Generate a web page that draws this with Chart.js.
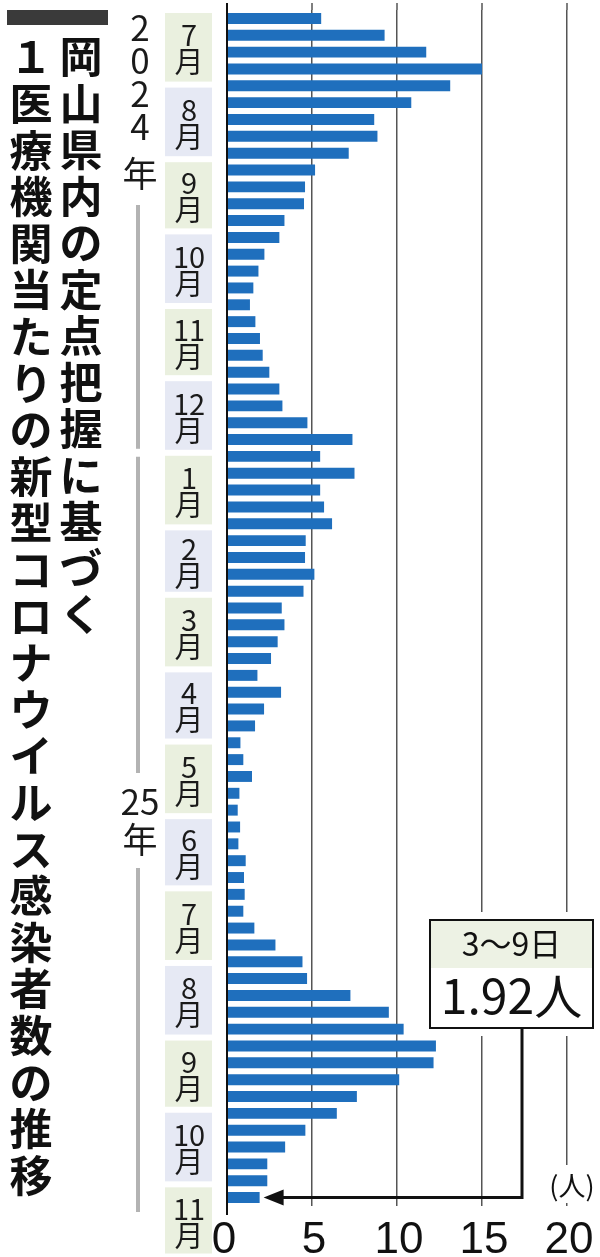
<!DOCTYPE html>
<html lang="ja">
<head>
<meta charset="utf-8">
<title>岡山県内の定点当たり新型コロナ感染者数</title>
<script src="https://cdn.jsdelivr.net/npm/chart.js@4.4.1/dist/chart.umd.min.js"></script>
<style>
  html, body { margin: 0; padding: 0; background: #fff; }
  canvas { display: block; }
</style>
</head>
<body>
<canvas id="chart" width="600" height="1257"></canvas>
<script>
// week starting dates (Mon), 2024/7/1 - 2025/11/3
const weeks = [
  '2024-07-01','2024-07-08','2024-07-15','2024-07-22','2024-07-29',
  '2024-08-05','2024-08-12','2024-08-19','2024-08-26',
  '2024-09-02','2024-09-09','2024-09-16','2024-09-23','2024-09-30',
  '2024-10-07','2024-10-14','2024-10-21','2024-10-28',
  '2024-11-04','2024-11-11','2024-11-18','2024-11-25',
  '2024-12-02','2024-12-09','2024-12-16','2024-12-23','2024-12-30',
  '2025-01-06','2025-01-13','2025-01-20','2025-01-27',
  '2025-02-03','2025-02-10','2025-02-17','2025-02-24',
  '2025-03-03','2025-03-10','2025-03-17','2025-03-24','2025-03-31',
  '2025-04-07','2025-04-14','2025-04-21','2025-04-28',
  '2025-05-05','2025-05-12','2025-05-19','2025-05-26',
  '2025-06-02','2025-06-09','2025-06-16','2025-06-23','2025-06-30',
  '2025-07-07','2025-07-14','2025-07-21','2025-07-28',
  '2025-08-04','2025-08-11','2025-08-18','2025-08-25',
  '2025-09-01','2025-09-08','2025-09-15','2025-09-22','2025-09-29',
  '2025-10-06','2025-10-13','2025-10-20','2025-10-27',
  '2025-11-03'
];

// patients per sentinel clinic
const perClinic = [
  5.54, 9.27, 11.72, 15.0, 13.13,
  10.84, 8.66, 8.85, 7.16,
  5.18, 4.59, 4.53, 3.38, 3.08,
  2.20, 1.85, 1.55, 1.35,
  1.67, 1.94, 2.10, 2.49,
  3.08, 3.26, 4.73, 7.38, 5.48,
  7.50, 5.48, 5.71, 6.18,
  4.63, 4.59, 5.14, 4.50,
  3.22, 3.38, 2.98, 2.59, 1.79,
  3.18, 2.18, 1.65, 0.79,
  0.96, 1.47, 0.73, 0.63,
  0.77, 0.67, 1.10, 1.00, 1.04,
  0.96, 1.61, 2.85, 4.44,
  4.71, 7.26, 9.52, 10.39,
  12.29, 12.15, 10.13, 7.64, 6.46,
  4.61, 3.42, 2.37, 2.37,
  1.92
];

const xTicks = [0, 5, 10, 15, 20];

const monthNames = ['7','8','9','10','11','12','1','2','3','4','5','6','7','8','9','10','11'];
const monthStarts = [
  '2024-07-01','2024-08-01','2024-09-01','2024-10-01','2024-11-01','2024-12-01',
  '2025-01-01','2025-02-01','2025-03-01','2025-04-01','2025-05-01','2025-06-01',
  '2025-07-01','2025-08-01','2025-09-01','2025-10-01','2025-11-01','2025-12-01'
];

const titleRight = '岡山県内の定点把握に基づく';
const titleLeft = '１医療機関当たりの新型コロナウイルス感染者数の推移';
const calloutDate = '3〜9日';
const calloutValue = '1.92人';

const JP = '"Noto Sans CJK JP", "Noto Sans", sans-serif';

function dayY(y, iso) {
  const d = (Date.parse(iso) - Date.parse(weeks[0])) / 86400000;
  const p0 = y.getPixelForValue(0);
  const pitch = y.getPixelForValue(1) - p0;
  return p0 - pitch / 2 + d * pitch / 7;
}

const decorations = {
  id: 'decorations',
  afterDraw(chart) {
    const ctx = chart.ctx;
    const x = chart.scales.x, y = chart.scales.y;
    const area = chart.chartArea;
    ctx.save();

    // grid lines reach a bit above the first bar
    ctx.strokeStyle = '#555';
    ctx.lineWidth = 1.5;
    xTicks.forEach(v => {
      const px = x.getPixelForValue(v);
      ctx.beginPath(); ctx.moveTo(px, 3); ctx.lineTo(px, area.top); ctx.stroke();
    });
    ctx.strokeStyle = '#111';
    ctx.lineWidth = 2;
    const x0 = x.getPixelForValue(0);
    ctx.beginPath(); ctx.moveTo(x0, 3); ctx.lineTo(x0, area.bottom + 9); ctx.stroke();

    // x tick labels
    ctx.fillStyle = '#111';
    ctx.font = '44px "Liberation Sans Narrow", "Liberation Sans", sans-serif';
    ctx.textAlign = 'center';
    ctx.textBaseline = 'alphabetic';
    xTicks.forEach(v => ctx.fillText(String(v), x.getPixelForValue(v) + (v === 0 ? -3 : 2), 1253));

    // title, vertical
    ctx.fillStyle = '#3a3a3a';
    ctx.fillRect(7, 10, 101, 15);
    ctx.fillStyle = '#111';
    ctx.font = 'bold 43px ' + JP;
    ctx.textBaseline = 'middle';
    [...titleRight].forEach((c, i) => ctx.fillText(c, 81, 57 + i * 46.5));
    [...titleLeft].forEach((c, i) => ctx.fillText(c, 31, 57 + i * 46.6));

    // month boxes
    monthNames.forEach((m, i) => {
      const top = dayY(y, monthStarts[i]) + 3;
      const bot = dayY(y, monthStarts[i + 1]) - 3;
      ctx.fillStyle = i % 2 === 0 ? '#eaf0df' : '#e6e9f4';
      ctx.fillRect(165, top, 47, bot - top);
      const mid = i === monthNames.length - 1 ? top + 34 : (top + bot) / 2;
      ctx.fillStyle = '#1a1a1a';
      ctx.font = '29px ' + JP;
      ctx.fillText(m, 189, mid - 12);
      ctx.fillText('月', 189, mid + 15);
    });

    // years
    ctx.font = '35px ' + JP;
    ['2', '0', '2', '4'].forEach((c, i) => ctx.fillText(c, 140, 28 + i * 33));
    ctx.fillText('年', 140, 174);
    ctx.fillText('25', 140, 802);
    ctx.fillText('年', 140, 840);
    ctx.strokeStyle = '#b3b3b3';
    ctx.lineWidth = 4;
    const yearEdge = dayY(y, '2025-01-01');
    [[205, yearEdge - 4], [yearEdge + 4, 773], [868, 1212]].forEach(([a, b]) => {
      ctx.beginPath(); ctx.moveTo(138, a); ctx.lineTo(138, b); ctx.stroke();
    });

    // callout for the latest week
    ctx.fillStyle = '#fff';
    ctx.fillRect(423, 912, 177, 124);
    ctx.fillRect(545, 1165, 55, 38);
    const bx = 430, by = 920, bw = 163, bh = 108;
    ctx.fillStyle = '#edf2e4';
    ctx.fillRect(bx, by, bw, 48);
    ctx.strokeStyle = '#111';
    ctx.lineWidth = 2;
    ctx.strokeRect(bx, by, bw, bh);
    ctx.fillStyle = '#111';
    ctx.font = '32px ' + JP;
    ctx.fillText(calloutDate, bx + bw / 2, by + 24);
    ctx.font = '48px ' + JP;
    ctx.fillText(calloutValue, bx + bw / 2, by + 76);

    const last = perClinic.length - 1;
    const ly = y.getPixelForValue(last);
    const tip = x.getPixelForValue(perClinic[last]) + 4;
    ctx.lineWidth = 3;
    ctx.beginPath();
    ctx.moveTo(522, by + bh); ctx.lineTo(522, ly); ctx.lineTo(tip + 14, ly);
    ctx.stroke();
    ctx.beginPath();
    ctx.moveTo(tip, ly); ctx.lineTo(tip + 20, ly - 8); ctx.lineTo(tip + 20, ly + 8);
    ctx.closePath(); ctx.fill();

    ctx.font = '27px ' + JP;
    ctx.fillText('(人)', 572, 1186);
    ctx.restore();
  }
};

new Chart(document.getElementById('chart'), {
  type: 'bar',
  data: {
    labels: weeks,
    datasets: [{
      data: perClinic,
      backgroundColor: '#1f6fbd',
      barPercentage: 0.65,
      categoryPercentage: 1
    }]
  },
  options: {
    indexAxis: 'y',
    responsive: false,
    animation: false,
    events: [],
    layout: { padding: { left: 227, right: 33, top: 10, bottom: 51 } },
    plugins: { legend: { display: false }, tooltip: { enabled: false } },
    scales: {
      x: {
        min: 0, max: 20, z: 1,
        ticks: { display: false, stepSize: 5 },
        grid: { color: '#555', lineWidth: 1.5, drawTicks: false },
        border: { display: false }
      },
      y: {
        ticks: { display: false },
        grid: { display: false, drawTicks: false },
        border: { display: true, color: '#111', width: 2 }
      }
    }
  },
  plugins: [decorations]
});
</script>
</body>
</html>
